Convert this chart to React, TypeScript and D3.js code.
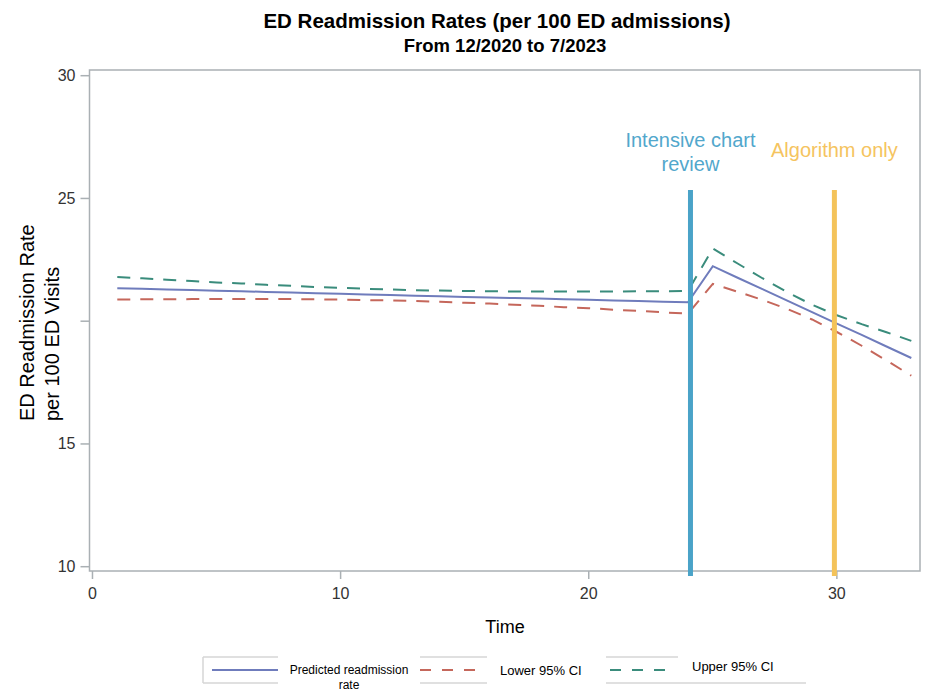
import React from "react";
import * as d3 from "d3";

const time = [1,2,3,4,5,6,7,8,9,10,11,12,13,14,15,16,17,18,19,20,21,22,23,24,25,26,27,28,29,30,31,32,33];
const predicted = [21.34,21.32,21.29,21.27,21.24,21.22,21.19,21.17,21.14,21.12,21.09,21.07,21.04,21.02,20.99,20.97,20.94,20.92,20.89,20.87,20.84,20.82,20.79,20.77,22.24,21.77,21.31,20.84,20.37,19.9,19.44,18.97,18.5];
const upper = [21.8,21.75,21.69,21.64,21.58,21.54,21.48,21.44,21.39,21.36,21.32,21.29,21.26,21.25,21.23,21.22,21.21,21.21,21.21,21.21,21.21,21.22,21.22,21.23,22.96,22.35,21.75,21.18,20.67,20.24,19.88,19.55,19.2];
const lower = [20.88,20.89,20.89,20.9,20.9,20.9,20.9,20.9,20.89,20.88,20.86,20.85,20.82,20.79,20.75,20.72,20.67,20.63,20.57,20.53,20.47,20.42,20.36,20.31,21.52,21.2,20.87,20.5,20.07,19.56,19.0,18.4,17.78];
const yTicks = [10, 15, 20, 25, 30];
const yTickLabels = ["10", "15", "", "25", "30"];
const xTicks = [0, 10, 20, 30];
const interventions = [
  { t: 24.1, lines: ["Intensive chart", "review"], color: "#4aa3c8", text: "#52a7cc" },
  { t: 29.9, lines: ["Algorithm only"], color: "#f4c35a", text: "#f5c460" },
];

const W = 931, H = 695;
const L = 89.5, R = 920, T = 70, B = 571;
const PRED_C = "#6f7cbc", LOW_C = "#c5675b", UP_C = "#3a8c7c";
const AX = "#aab0b4";
const FONT = "Liberation Sans, Arial, sans-serif";

export default function App() {
  const x = d3.scaleLinear().domain([-0.12, 33.35]).range([L, R]);
  const y = d3.scaleLinear().domain([10, 30]).range([566.7, 75.7]);
  const mk = (vals: number[]) =>
    d3.line<number>().x((_, i) => x(time[i])).y((v) => y(v))(vals) || "";

  return (
    <svg width={W} height={H} style={{ position: "absolute", left: 0, top: 0, background: "#fff" }} fontFamily={FONT}>
      <rect x={0} y={0} width={W} height={H} fill="#fff" />
      <text x={497} y={28} textAnchor="middle" fontSize={20.5} fontWeight="bold" fill="#000">
        ED Readmission Rates (per 100 ED admissions)
      </text>
      <text x={505} y={52} textAnchor="middle" fontSize={18.5} fontWeight="bold" fill="#000">
        From 12/2020 to 7/2023
      </text>

      {/* frame */}
      <rect x={L} y={T} width={R - L} height={B - T} fill="none" stroke={AX} strokeWidth={1.5} />

      {/* y ticks */}
      {yTicks.map((v, i) => (
        <g key={v}>
          <line x1={L - 9} x2={L} y1={y(v)} y2={y(v)} stroke={AX} strokeWidth={1.5} />
          <text x={L - 14} y={y(v) + 5.5} textAnchor="end" fontSize={16} fill="#333">
            {yTickLabels[i]}
          </text>
        </g>
      ))}
      {/* x ticks */}
      {xTicks.map((v) => (
        <g key={v}>
          <line x1={x(v)} x2={x(v)} y1={B} y2={B + 8} stroke={AX} strokeWidth={1.5} />
          <text x={x(v)} y={599} textAnchor="middle" fontSize={16} fill="#333">
            {v}
          </text>
        </g>
      ))}
      <text x={505} y={633} textAnchor="middle" fontSize={18} fill="#000">Time</text>
      <text transform="translate(34,421) rotate(-90)" fontSize={20} fill="#000">ED Readmission Rate</text>
      <text transform="translate(59,421) rotate(-90)" fontSize={20} fill="#000">per 100 ED Visits</text>

      {/* series */}
      <path d={mk(upper)} fill="none" stroke={UP_C} strokeWidth={2} strokeDasharray="13 10" />
      <path d={mk(lower)} fill="none" stroke={LOW_C} strokeWidth={2} strokeDasharray="13 10" />
      <path d={mk(predicted)} fill="none" stroke={PRED_C} strokeWidth={2} />

      {/* interventions */}
      {interventions.map((iv) => (
        <g key={iv.t}>
          <line x1={x(iv.t)} x2={x(iv.t)} y1={190} y2={576} stroke={iv.color} strokeWidth={5} />
          {iv.lines.map((s, j) => (
            <text key={j} x={x(iv.t)} y={(iv.lines.length === 2 ? 147 : 157) + j * 24} textAnchor="middle" fontSize={20} fill={iv.text}>
              {s}
            </text>
          ))}
        </g>
      ))}

      {/* legend */}
      <g stroke="#d6d6d6" strokeWidth={1.5}>
        <line x1={203} x2={203} y1={657} y2={683} />
        <line x1={203} x2={278} y1={657} y2={657} />
        <line x1={203} x2={278} y1={683} y2={683} />
        <line x1={420} x2={487} y1={657} y2={657} />
        <line x1={420} x2={487} y1={683} y2={683} />
        <line x1={606} x2={678} y1={657} y2={657} />
        <line x1={606} x2={806} y1={683} y2={683} />
      </g>
      <line x1={212} x2={278} y1={670} y2={670} stroke={PRED_C} strokeWidth={2} />
      <line x1={420} x2={477} y1={670} y2={670} stroke={LOW_C} strokeWidth={2} strokeDasharray="11 11" />
      <line x1={610} x2={672} y1={670} y2={670} stroke={UP_C} strokeWidth={2} strokeDasharray="11 11" />
      <text x={349} y={674} textAnchor="middle" fontSize={12} fill="#000">Predicted readmission</text>
      <text x={349} y={689} textAnchor="middle" fontSize={12} fill="#000">rate</text>
      <text x={500} y={675} fontSize={13} fill="#000">Lower 95% CI</text>
      <text x={692} y={671} fontSize={13} fill="#000">Upper 95% CI</text>
    </svg>
  );
}
